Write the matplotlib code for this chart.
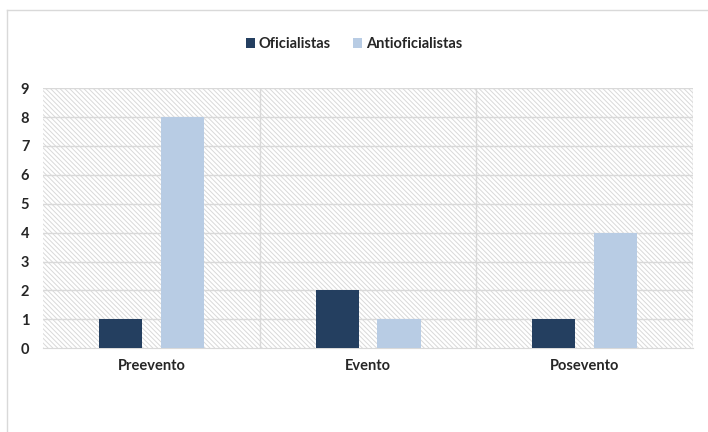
import matplotlib
matplotlib.use('Agg')
import numpy as np, matplotlib.pyplot as plt
from matplotlib.lines import Line2D

categories = ['Preevento', 'Evento', 'Posevento']
oficialistas = [1, 2, 1]
antioficialistas = [8, 1, 4]
series_names = ['Oficialistas', 'Antioficialistas']

c_dark, c_light = '#243F60', '#B8CCE4'
plt.rcParams['font.family'] = ['Lato', 'DejaVu Sans']
plt.rcParams['hatch.color'] = '#D9D9D9'
plt.rcParams['hatch.linewidth'] = 0.7

fig = plt.figure(figsize=(7.08, 4.32), dpi=100)
ax = fig.add_axes([0.061, 0.194, 0.918, 0.602])

x = np.arange(len(categories))
w = 0.2
ax.set_xlim(-0.5, len(categories) - 0.5)
ax.set_ylim(0, 9)
# hatched plot area
ax.add_patch(plt.Rectangle((-0.5, 0), len(categories), 9, facecolor='white',
                           edgecolor='#D9D9D9', hatch='\\' * 7, lw=0, zorder=0))
for y in range(1, 10):
    ax.axhline(y, color='#D9D9D9', lw=1, zorder=1)
for xv in [0.5, 1.5, 2.5]:
    ax.axvline(xv, color='#D9D9D9', lw=1, zorder=1)

ax.bar(x - 0.143, oficialistas, w, color=c_dark, zorder=3, label=series_names[0])
ax.bar(x + 0.143, antioficialistas, w, color=c_light, zorder=3, label=series_names[1])

ax.set_xticks(x)
ax.set_xticklabels(categories, fontsize=10.5, fontweight='bold', color='#262626')
ax.set_yticks(range(0, 10))
ax.set_yticklabels([str(i) for i in range(10)], fontsize=10.5, fontweight='bold', color='#262626')
ax.tick_params(length=0, pad=8)
ax.tick_params(axis='y', pad=10)
for s in ['top', 'right', 'left']:
    ax.spines[s].set_visible(False)
ax.spines['bottom'].set_color('#D9D9D9')

leg = fig.legend(loc='center', bbox_to_anchor=(0.5, 0.898), ncol=2, frameon=False,
                 prop={'weight': 'bold', 'size': 10.5}, handlelength=0.6, handleheight=0.6,
                 handletextpad=0.3, columnspacing=1.5)
for t in leg.get_texts():
    t.set_color('#262626')

# outer chart border (top and left visible in crop)
fig.add_artist(Line2D([7/708, 7/708], [0, 1 - 10/432], color='#D9D9D9', lw=1))
fig.add_artist(Line2D([7/708, 1], [1 - 10/432, 1 - 10/432], color='#D9D9D9', lw=1))

fig.savefig('out.png', dpi=100)
